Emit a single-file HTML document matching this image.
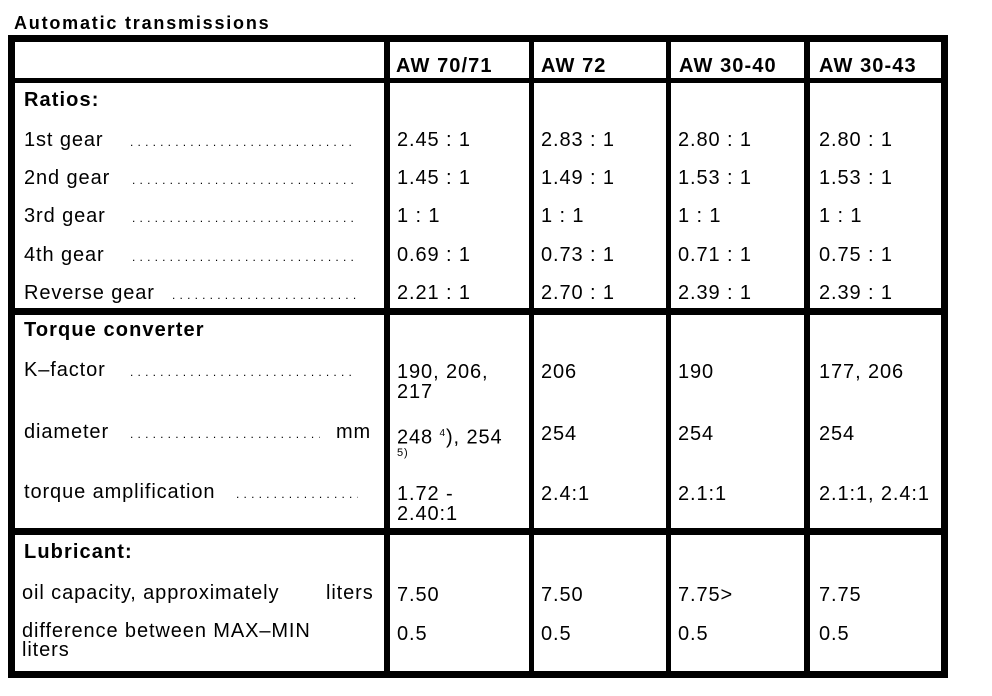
<!DOCTYPE html>
<html><head><style>
body{margin:0;width:992px;height:696px;background:#fff;position:relative;overflow:hidden;font-family:"Liberation Sans",Arial,sans-serif;color:#000}
.l{position:absolute;background:#000}
.t{position:absolute;font-size:20px;letter-spacing:0.9px;line-height:20px;white-space:nowrap}
.b{font-weight:bold;letter-spacing:1.1px}
.d{position:absolute;font-size:12px;letter-spacing:4.2px;line-height:20px;white-space:nowrap;overflow:hidden;height:20px}
</style></head><body>
<div class="t b" style="left:14px;top:13px;font-size:18px;letter-spacing:1.8px">Automatic transmissions</div>
<div class="l" style="left:8px;top:35px;width:940px;height:7px"></div>
<div class="l" style="left:8px;top:78px;width:940px;height:5px"></div>
<div class="l" style="left:8px;top:308px;width:940px;height:7px"></div>
<div class="l" style="left:8px;top:528px;width:940px;height:7px"></div>
<div class="l" style="left:8px;top:671px;width:940px;height:7px"></div>
<div class="l" style="left:8px;top:35px;width:7px;height:643px"></div>
<div class="l" style="left:384px;top:35px;width:6px;height:643px"></div>
<div class="l" style="left:529px;top:35px;width:5px;height:643px"></div>
<div class="l" style="left:666px;top:35px;width:5px;height:643px"></div>
<div class="l" style="left:804px;top:35px;width:6px;height:643px"></div>
<div class="l" style="left:941px;top:35px;width:7px;height:643px"></div>

<div class="t b" style="left:396px;top:56px">AW 70/71</div>
<div class="t b" style="left:541px;top:56px">AW 72</div>
<div class="t b" style="left:679px;top:56px">AW 30-40</div>
<div class="t b" style="left:819px;top:56px">AW 30-43</div>

<div class="t b" style="left:24px;top:90px">Ratios:</div>
<div class="t" style="left:24px;top:130px">1st gear</div><div class="d" style="left:130px;top:132px;width:228px">..............................</div>
<div class="t" style="left:24px;top:168px">2nd gear</div><div class="d" style="left:132px;top:170px;width:226px">..............................</div>
<div class="t" style="left:24px;top:206px">3rd gear</div><div class="d" style="left:132px;top:208px;width:226px">..............................</div>
<div class="t" style="left:24px;top:245px">4th gear</div><div class="d" style="left:132px;top:247px;width:226px">..............................</div>
<div class="t" style="left:24px;top:283px">Reverse gear</div><div class="d" style="left:172px;top:285px;width:186px">..............................</div>

<div class="t" style="left:397px;top:130px">2.45 : 1</div><div class="t" style="left:541px;top:130px">2.83 : 1</div><div class="t" style="left:678px;top:130px">2.80 : 1</div><div class="t" style="left:819px;top:130px">2.80 : 1</div>
<div class="t" style="left:397px;top:168px">1.45 : 1</div><div class="t" style="left:541px;top:168px">1.49 : 1</div><div class="t" style="left:678px;top:168px">1.53 : 1</div><div class="t" style="left:819px;top:168px">1.53 : 1</div>
<div class="t" style="left:397px;top:206px">1 : 1</div><div class="t" style="left:541px;top:206px">1 : 1</div><div class="t" style="left:678px;top:206px">1 : 1</div><div class="t" style="left:819px;top:206px">1 : 1</div>
<div class="t" style="left:397px;top:245px">0.69 : 1</div><div class="t" style="left:541px;top:245px">0.73 : 1</div><div class="t" style="left:678px;top:245px">0.71 : 1</div><div class="t" style="left:819px;top:245px">0.75 : 1</div>
<div class="t" style="left:397px;top:283px">2.21 : 1</div><div class="t" style="left:541px;top:283px">2.70 : 1</div><div class="t" style="left:678px;top:283px">2.39 : 1</div><div class="t" style="left:819px;top:283px">2.39 : 1</div>

<div class="t b" style="left:24px;top:320px">Torque converter</div>
<div class="t" style="left:24px;top:360px">K–factor</div><div class="d" style="left:130px;top:362px;width:228px">..............................</div>
<div class="t" style="left:24px;top:422px">diameter</div><div class="d" style="left:130px;top:424px;width:190px">..............................</div><div class="t" style="left:336px;top:422px">mm</div>
<div class="t" style="left:24px;top:482px">torque amplification</div><div class="d" style="left:236px;top:484px;width:122px">..............................</div>

<div class="t" style="left:397px;top:362px;line-height:20px">190, 206,<br>217</div><div class="t" style="left:541px;top:362px">206</div><div class="t" style="left:678px;top:362px">190</div><div class="t" style="left:819px;top:362px">177, 206</div>
<div class="t" style="left:397px;top:424px">248 <sup style="font-size:10px">4</sup>), 254<br><span style="font-size:11px;position:relative;top:-8px">5)</span></div><div class="t" style="left:541px;top:424px">254</div><div class="t" style="left:678px;top:424px">254</div><div class="t" style="left:819px;top:424px">254</div>
<div class="t" style="left:397px;top:484px">1.72 -<br>2.40:1</div><div class="t" style="left:541px;top:484px">2.4:1</div><div class="t" style="left:678px;top:484px">2.1:1</div><div class="t" style="left:819px;top:484px">2.1:1, 2.4:1</div>

<div class="t b" style="left:24px;top:542px">Lubricant:</div>
<div class="t" style="left:22px;top:583px">oil capacity, approximately</div><div class="t" style="left:326px;top:583px">liters</div>
<div class="t" style="left:22px;top:622px;line-height:19px">difference between MAX–MIN<br>liters</div>
<div class="t" style="left:397px;top:585px">7.50</div><div class="t" style="left:541px;top:585px">7.50</div><div class="t" style="left:678px;top:585px">7.75&gt;</div><div class="t" style="left:819px;top:585px">7.75</div>
<div class="t" style="left:397px;top:624px">0.5</div><div class="t" style="left:541px;top:624px">0.5</div><div class="t" style="left:678px;top:624px">0.5</div><div class="t" style="left:819px;top:624px">0.5</div>
</body></html>
